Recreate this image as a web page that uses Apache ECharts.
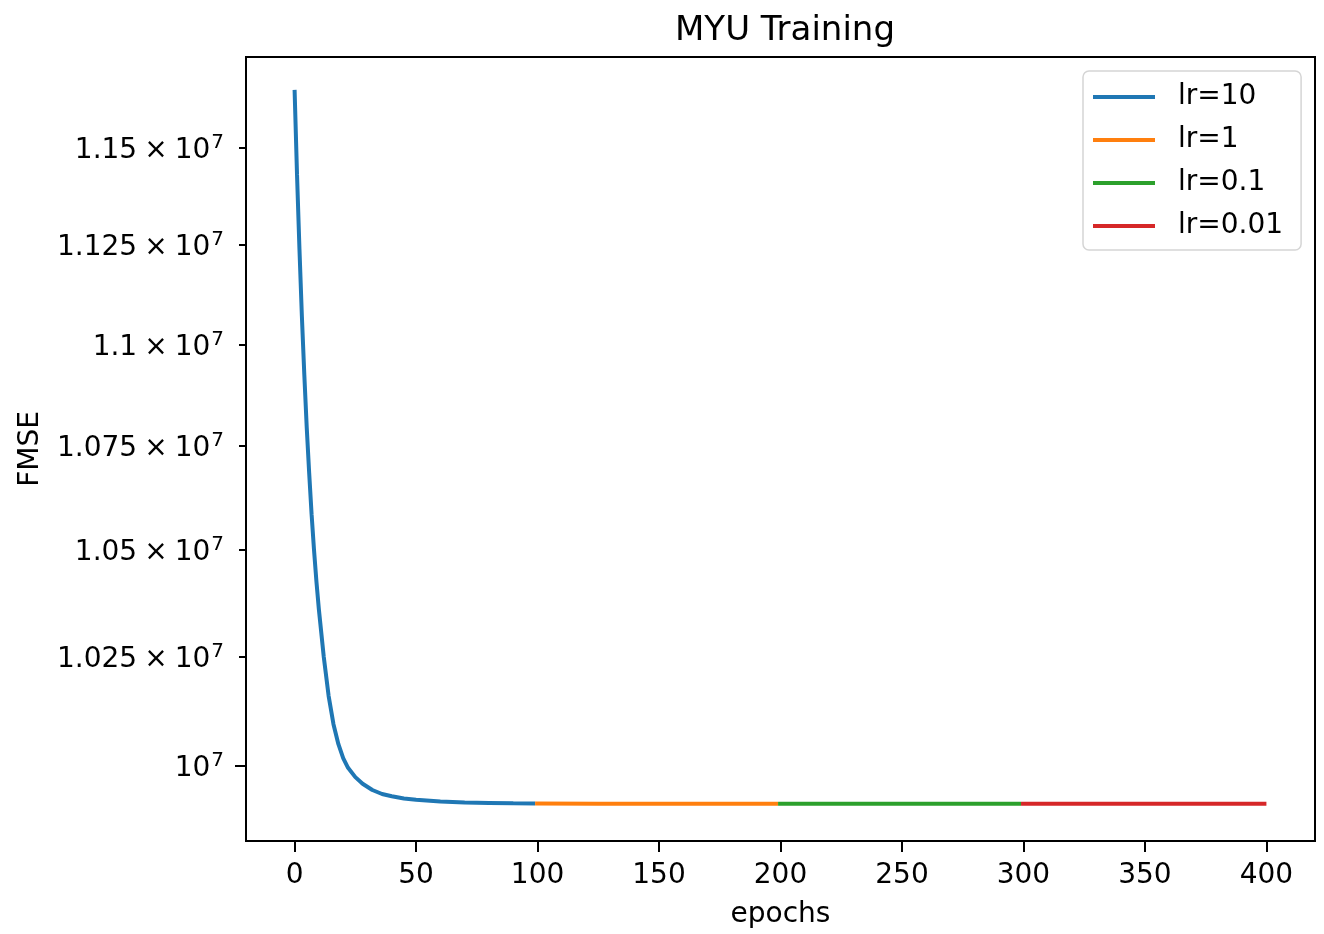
<!DOCTYPE html>
<html>
<head>
<meta charset="utf-8">
<script src="https://cdn.jsdelivr.net/npm/echarts@6/dist/echarts.min.js"></script>
<style>
  html, body { margin: 0; padding: 0; background: #fff; }
  #chart { width: 1324px; height: 934px; }
</style>
</head>
<body>
<div id="chart"></div>
<script>
// values
const epochsLr10 = [0, 1, 2, 3, 4, 5, 6, 7, 8, 9, 10, 12, 14, 16, 18, 20, 22, 25, 28, 32, 36, 40, 45, 50, 60, 70, 80, 90, 99];
const fmseLr10 = [11651000, 11430000, 11240000, 11070000, 10925000, 10795000, 10685000, 10585000, 10500000, 10425000,
  10360000, 10250000, 10160000, 10095000, 10050000, 10018000, 9996000, 9975000, 9960000, 9946000,
  9937000, 9932000, 9927000, 9924000, 9920000, 9918000, 9917000, 9916000, 9915500];
const epochsLr1 = [99, 125, 150, 175, 199];
const fmseLr1 = [9915500, 9915400, 9915300, 9915300, 9915200];
const epochsLr01 = [199, 225, 250, 275, 299];
const fmseLr01 = [9915200, 9915200, 9915100, 9915100, 9915100];
const epochsLr001 = [299, 325, 350, 375, 400];
const fmseLr001 = [9915100, 9915100, 9915100, 9915100, 9915100];

const xTicks = [0, 50, 100, 150, 200, 250, 300, 350, 400];
const yTicks = [10000000, 10250000, 10500000, 10750000, 11000000, 11250000, 11500000];
const yTickMantissas = ['', '1.025', '1.05', '1.075', '1.1', '1.125', '1.15'];

const FONT = 'DejaVu Sans';
const zip = (xs, ys) => xs.map((x, i) => [x, ys[i]]);

const chart = echarts.init(document.getElementById('chart'));

const lineSeries = (name, color, xs, ys) => ({
  name,
  type: 'line',
  data: zip(xs, ys),
  symbol: 'none',
  lineStyle: { color, width: 4 },
  itemStyle: { color },
});

// mathtext-like label: mantissa x 10 with a raised exponent
const yLabel = (value) => {
  const i = yTicks.indexOf(value);
  const m = i >= 0 ? yTickMantissas[i] : '';
  return m ? `{b|${m}\u2005×\u200510}{s|7}` : '{b|10}{s|7}';
};

chart.setOption({
  animation: false,
  backgroundColor: '#fff',
  textStyle: { fontFamily: FONT, color: '#000' },
  title: {
    text: 'MYU Training',
    left: 780,
    top: 9,
    textAlign: 'center',
    textStyle: { fontFamily: FONT, fontSize: 34, fontWeight: 'normal', color: '#000' },
  },
  grid: {
    left: 246, right: 9, top: 57, bottom: 89,
    show: true, borderColor: '#000', borderWidth: 2,
  },
  legend: {
    orient: 'vertical',
    left: 1083,
    top: 71,
    icon: 'rect',
    itemWidth: 62,
    itemHeight: 4,
    itemGap: 15,
    padding: [12, 18, 10, 10],
    borderColor: '#d5d5d5',
    borderWidth: 1.5,
    borderRadius: 6,
    backgroundColor: 'rgba(255,255,255,0.8)',
    textStyle: { fontFamily: FONT, fontSize: 28, lineHeight: 28, color: '#000', padding: [0, 0, 0, 18] },
  },
  xAxis: {
    type: 'value',
    min: -20,
    max: 420,
    name: 'epochs',
    nameLocation: 'middle',
    nameGap: 60,
    nameTextStyle: { fontFamily: FONT, fontSize: 28, color: '#000' },
    axisLine: { show: true, onZero: false, lineStyle: { color: '#000', width: 2 } },
    axisTick: { show: true, length: 11, customValues: xTicks, lineStyle: { color: '#000', width: 2 } },
    axisLabel: { customValues: xTicks, margin: 21, fontFamily: FONT, fontSize: 28, color: '#000' },
    splitLine: { show: false },
  },
  yAxis: [{
    type: 'log',
    min: 9832000,
    max: 11738000,
    name: 'FMSE',
    nameLocation: 'middle',
    nameGap: 201,
    nameTextStyle: { fontFamily: FONT, fontSize: 28, color: '#000' },
    axisLine: { show: true, onZero: false, lineStyle: { color: '#000', width: 2 } },
    axisTick: { show: true, length: 7, customValues: yTicks.slice(1), lineStyle: { color: '#000', width: 2 } },
    axisLabel: {
      customValues: yTicks,
      margin: 22,
      formatter: yLabel,
      rich: {
        b: { fontFamily: FONT, fontSize: 28, color: '#000', padding: [6, 0, 0, 0] },
        s: { fontFamily: FONT, fontSize: 20, color: '#000', padding: [0, 0, 10, 1] },
      },
    },
    splitLine: { show: false },
    minorTick: { show: false },
  }, {
    type: 'log',
    position: 'left',
    min: 9832000,
    max: 11738000,
    axisLine: { show: false, onZero: false },
    axisTick: { show: true, length: 11, customValues: [yTicks[0]], lineStyle: { color: '#000', width: 2 } },
    axisLabel: { show: false },
    splitLine: { show: false },
  }],
  series: [
    lineSeries('lr=10', '#1f77b4', epochsLr10, fmseLr10),
    lineSeries('lr=1', '#ff7f0e', epochsLr1, fmseLr1),
    lineSeries('lr=0.1', '#2ca02c', epochsLr01, fmseLr01),
    lineSeries('lr=0.01', '#d62728', epochsLr001, fmseLr001),
  ],
});
</script>
</body>
</html>
